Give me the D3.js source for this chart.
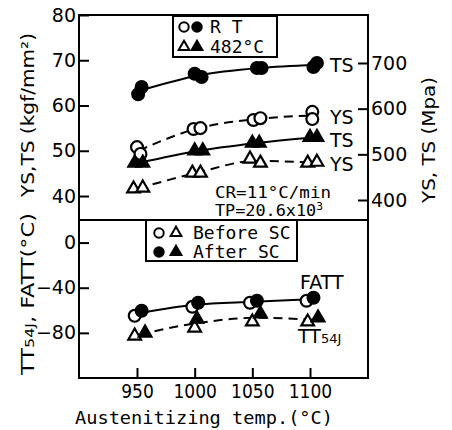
<!DOCTYPE html>
<html>
<head>
<meta charset="utf-8">
<script src="https://cdn.jsdelivr.net/npm/d3@7"></script>
<style>
  body { margin: 0; background: #fff; }
  svg { display: block; }
  text { fill: #000; }
</style>
</head>
<body>
<div id="chart"></div>
<script>
// x ticks and the value of each point, [temp, value]; the two points of a pair
// sit side by side at the same nominal temperature
const tempTicks = [950, 1000, 1050, 1100];
const kgfTicks = [40, 50, 60, 70, 80];
const mpaTicks = [400, 500, 600, 700];
const degTicks = [0, -40, -80];

// top panel, kgf/mm2
const rtTS = [[951, 62.5], [954, 64.1], [1000, 67.0], [1006, 66.3], [1054, 68.3], [1058, 68.3], [1103, 68.5], [1106, 69.4]];
const rtYS = [[950, 50.8], [953, 49.3], [999, 54.8], [1005, 55.0], [1051, 56.8], [1057, 57.2], [1102, 58.6], [1102, 57.0]];
const hotTS = [[948, 47.3], [955, 47.3], [1000, 50.0], [1007, 50.0], [1050, 51.7], [1056, 51.7], [1100, 53.0], [1106, 53.0]];
const hotYS = [[947, 41.6], [955, 41.8], [998, 45.1], [1005, 45.1], [1048, 48.2], [1057, 47.3], [1098, 47.3], [1106, 47.5]];

// bottom panel, degC
const fattBefore = [[948, -64.9], [998, -56.9], [1048, -53.3], [1097, -51.6]];
const fattAfter = [[954, -60.4], [1003, -53.3], [1054, -51.6], [1103, -48.9]];
const ttBefore = [[948, -82.7], [1000, -75.6], [1050, -70.2], [1098, -70.2]];
const ttAfter = [[957, -80.0], [1002, -67.6], [1057, -63.1], [1107, -66.7]];

const W = 452, H = 430;
const pLeft = 79, pRight = 368, pTop = 15, pMid = 220, pBottom = 378;

const svg = d3.select('#chart').append('svg')
    .attr('width', W)
    .attr('height', H)
    .style('background', '#fff');

const x = d3.scaleLinear().domain([950, 1100]).range([137, 310]);
const yTop = d3.scaleLinear().domain([34.7, 80]).range([pMid, pTop]);
const yMpa = d3.scaleLinear().domain([400, 700]).range([200, 63]);
const yBot = d3.scaleLinear().domain([-120, 20]).range([pBottom, pMid]);

const numFont = 'DejaVu Sans';
const monoFont = 'DejaVu Sans Mono';

// frames
const frame = svg.append('g').attr('fill', 'none').attr('stroke', '#000').attr('stroke-width', 2);
frame.append('rect').attr('x', pLeft).attr('y', pTop).attr('width', pRight - pLeft).attr('height', pMid - pTop);
frame.append('rect').attr('x', pLeft).attr('y', pMid).attr('width', pRight - pLeft).attr('height', pBottom - pMid);

// axes
const styleAxis = (g, size) => {
    g.select('.domain').remove();
    g.selectAll('line').attr('stroke', '#000').attr('stroke-width', 2);
    g.selectAll('text').attr('font-family', numFont).attr('font-size', size);
};

svg.append('g')
    .attr('transform', 'translate(' + pLeft + ',0)')
    .call(d3.axisLeft(yTop).tickValues(kgfTicks).tickSize(-10).tickPadding(3))
    .call(g => styleAxis(g, 19));

svg.append('g')
    .attr('transform', 'translate(' + pLeft + ',0)')
    .call(d3.axisLeft(yBot).tickValues(degTicks).tickSize(-10).tickPadding(3))
    .call(g => styleAxis(g, 19));

svg.append('g')
    .attr('transform', 'translate(' + pRight + ',0)')
    .call(d3.axisRight(yMpa).tickValues(mpaTicks).tickSize(-10).tickPadding(3))
    .call(g => styleAxis(g, 19));

svg.append('g')
    .attr('transform', 'translate(0,' + pBottom + ')')
    .call(d3.axisBottom(x).tickValues(tempTicks).tickFormat(d3.format('d')).tickSize(-10).tickPadding(7))
    .call(g => styleAxis(g, 19))
    .call(g => g.selectAll('text').attr('font-family', 'DejaVu Sans Condensed'));

// axis titles
svg.append('text')
    .attr('transform', 'translate(34,115) rotate(-90)')
    .attr('text-anchor', 'middle')
    .attr('font-family', numFont).attr('font-size', 17)
    .attr('textLength', 164).attr('lengthAdjust', 'spacingAndGlyphs')
    .text('YS,TS (kgf/mm²)');

const tt = svg.append('text')
    .attr('transform', 'translate(34,294) rotate(-90)')
    .attr('text-anchor', 'middle')
    .attr('font-family', numFont).attr('font-size', 17)
    .attr('textLength', 162).attr('lengthAdjust', 'spacingAndGlyphs');
tt.append('tspan').text('TT');
tt.append('tspan').attr('font-size', 12).text('54J');
tt.append('tspan').text(', FATT(°C)');

svg.append('text')
    .attr('transform', 'translate(435,140) rotate(-90)')
    .attr('text-anchor', 'middle')
    .attr('font-family', numFont).attr('font-size', 17)
    .attr('textLength', 126).attr('lengthAdjust', 'spacingAndGlyphs')
    .text('YS, TS (Mpa)');

svg.append('text')
    .attr('x', 75).attr('y', 424)
    .attr('font-family', monoFont).attr('font-size', 18)
    .attr('textLength', 258).attr('lengthAdjust', 'spacingAndGlyphs')
    .text('Austenitizing temp.(°C)');

// curves through the middle of each pair
const pairMeans = (pts) => d3.range(0, pts.length, 2).map(i => [
    (pts[i][0] + pts[i + 1][0]) / 2,
    (pts[i][1] + pts[i + 1][1]) / 2
]);
const zipMeans = (a, b) => a.map((p, i) => [(p[0] + b[i][0]) / 2, (p[1] + b[i][1]) / 2]);

const drawCurve = (pts, y, dashed) => {
    const line = d3.line()
        .x(d => x(d[0]))
        .y(d => y(d[1]))
        .curve(d3.curveMonotoneX);
    svg.append('path')
        .datum(pts)
        .attr('d', line)
        .attr('fill', 'none')
        .attr('stroke', '#000')
        .attr('stroke-width', 2)
        .attr('stroke-dasharray', dashed ? '9,6' : null);
};

drawCurve(pairMeans(rtTS), yTop, false);
drawCurve(pairMeans(rtYS), yTop, true);
drawCurve(pairMeans(hotTS), yTop, false);
drawCurve(pairMeans(hotYS), yTop, true);
drawCurve(zipMeans(fattBefore, fattAfter), yBot, false);
drawCurve(zipMeans(ttBefore, ttAfter), yBot, true);

// markers
const circleSym = d3.symbol(d3.symbolCircle, 110);
const triSym = d3.symbol(d3.symbolTriangle, 70);

const drawMarks = (pts, y, sym, filled) => {
    svg.append('g').selectAll('path')
        .data(pts)
        .join('path')
        .attr('transform', d => 'translate(' + x(d[0]) + ',' + y(d[1]) + ')')
        .attr('d', sym)
        .attr('fill', filled ? '#000' : '#fff')
        .attr('stroke', '#000')
        .attr('stroke-width', 2.2);
};

drawMarks(rtYS, yTop, circleSym, false);
drawMarks(rtTS, yTop, circleSym, true);
drawMarks(hotYS, yTop, triSym, false);
drawMarks(hotTS, yTop, triSym, true);
drawMarks(fattBefore, yBot, circleSym, false);
drawMarks(fattAfter, yBot, circleSym, true);
drawMarks(ttBefore, yBot, triSym, false);
drawMarks(ttAfter, yBot, triSym, true);

// curve labels
const label = (txt, px, py) => svg.append('text')
    .attr('x', px).attr('y', py)
    .attr('font-family', numFont).attr('font-size', 19)
    .text(txt);

label('TS', 330, 72);
label('YS', 330, 124);
label('TS', 330, 147);
label('YS', 330, 171);
label('FATT', 300, 289);
const ttl = label('TT', 298, 343);
ttl.append('tspan').attr('font-size', 13).text('54J');

// conditions
const cond = svg.append('g').attr('font-family', monoFont).attr('font-size', 15);
cond.append('text').attr('x', 215).attr('y', 198)
    .attr('textLength', 116).attr('lengthAdjust', 'spacingAndGlyphs')
    .text('CR=11°C/min');
const tp = cond.append('text').attr('x', 215).attr('y', 216)
    .attr('textLength', 108).attr('lengthAdjust', 'spacingAndGlyphs')
    .text('TP=20.6x10');
tp.append('tspan').attr('font-size', 10).attr('dy', -6).text('3');

// legends
const legend = (bx, by, bw, bh, rows) => {
    const g = svg.append('g');
    g.append('rect')
        .attr('x', bx).attr('y', by).attr('width', bw).attr('height', bh)
        .attr('fill', '#fff').attr('stroke', '#000').attr('stroke-width', 2);
    rows.forEach(r => {
        r.marks.forEach(m => {
            g.append('path')
                .attr('transform', 'translate(' + m.x + ',' + r.y + ')')
                .attr('d', m.sym)
                .attr('fill', m.filled ? '#000' : '#fff')
                .attr('stroke', '#000')
                .attr('stroke-width', 2);
        });
        g.append('text')
            .attr('x', r.tx).attr('y', r.y + 6)
            .attr('font-family', monoFont).attr('font-size', 18)
            .text(r.text);
    });
};

const smallCircle = d3.symbol(d3.symbolCircle, 70);
const smallTri = d3.symbol(d3.symbolTriangle, 50);

legend(173, 16, 104, 41, [
    { y: 27, tx: 210, text: 'R T', marks: [{ x: 184, sym: smallCircle, filled: false }, { x: 197, sym: smallCircle, filled: true }] },
    { y: 47, tx: 210, text: '482°C', marks: [{ x: 184, sym: smallTri, filled: false }, { x: 197, sym: smallTri, filled: true }] }
]);

legend(146, 220, 151, 41, [
    { y: 233, tx: 193, text: 'Before SC', marks: [{ x: 159, sym: smallCircle, filled: false }, { x: 176, sym: smallTri, filled: false }] },
    { y: 252, tx: 193, text: 'After SC', marks: [{ x: 159, sym: smallCircle, filled: true }, { x: 176, sym: smallTri, filled: true }] }
]);
</script>
</body>
</html>
